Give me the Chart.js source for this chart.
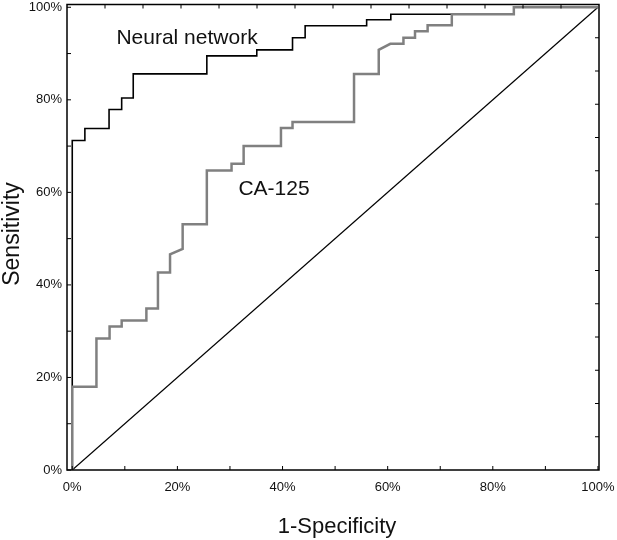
<!DOCTYPE html>
<html><head><meta charset="utf-8">
<script src="https://cdn.jsdelivr.net/npm/chart.js@4.4.0/dist/chart.umd.min.js"></script>
<style>html,body{margin:0;padding:0;background:#fff;} canvas{display:block;}</style>
</head><body>
<canvas id="c" width="617" height="540"></canvas>
<script>
// ---- data (percent) ----
const nnFpr  = [0, 0, 2.4, 2.4, 7.0, 7.0, 9.4, 9.4, 11.6, 11.6, 25.6, 25.6, 35.1, 35.1, 41.9, 41.9, 44.3, 44.3, 56.0, 56.0, 60.6, 60.6, 84.0, 84.0, 100];
const nnSens = [0, 71.2, 71.2, 73.8, 73.8, 77.9, 77.9, 80.4, 80.4, 85.6, 85.6, 89.5, 89.5, 90.8, 90.8, 93.4, 93.4, 96.0, 96.0, 97.3, 97.3, 98.5, 98.5, 100, 100];

const caFpr  = [0, 0, 4.6, 4.6, 7.1, 7.1, 9.4, 9.4, 14.1, 14.1, 16.3, 16.3, 18.6, 18.6, 21.0, 21.0, 25.6, 25.6, 30.3, 30.3, 32.6, 32.6, 39.7, 39.7, 41.9, 41.9, 53.6, 53.6, 58.3, 58.3, 60.5, 63.0, 63.0, 65.2, 65.2, 67.6, 67.6, 72.2, 72.2, 84.0, 84.0, 100];
const caSens = [0, 18.0, 18.0, 28.4, 28.4, 31.0, 31.0, 32.3, 32.3, 34.9, 34.9, 42.7, 42.7, 46.6, 47.8, 53.1, 53.1, 64.7, 64.7, 66.2, 66.2, 70.0, 70.0, 73.9, 73.9, 75.2, 75.2, 85.6, 85.6, 90.8, 92.1, 92.1, 93.4, 93.4, 94.8, 94.8, 96.1, 96.1, 98.5, 98.5, 100, 100];

const diagFpr  = [0, 100];
const diagSens = [0, 100];

const seriesNames = ['CA-125', 'Neural network', 'Reference'];
const xTickValues = [0, 20, 40, 60, 80, 100];
const yTickValues = [0, 20, 40, 60, 80, 100];
const minorTickValues = [0, 10, 20, 30, 40, 50, 60, 70, 80, 90, 100];
const xTitle = '1-Specificity';
const yTitle = 'Sensitivity';

// ---- rendering ----
const FONT = '"Liberation Sans", Arial, Helvetica, sans-serif';
Chart.defaults.font.family = FONT;
Chart.defaults.color = '#111';

const toPts = (xs, ys) => xs.map((v, i) => ({x: v, y: ys[i]}));

const framePlugin = {
  id: 'frame',
  afterDraw(chart) {
    const {ctx, chartArea, scales} = chart;
    const {left, right, top, bottom} = chartArea;
    const x = scales.x, y = scales.y;
    ctx.save();
    ctx.strokeStyle = '#000';
    ctx.lineWidth = 1.5;
    ctx.strokeRect(left, top, right - left, bottom - top);
    ctx.lineWidth = 1;
    const tl = 4;
    const seg = (a, b, c, d) => { ctx.beginPath(); ctx.moveTo(a, b); ctx.lineTo(c, d); ctx.stroke(); };
    minorTickValues.forEach(v => {
      const px = x.getPixelForValue(v);
      seg(px, bottom, px, bottom - tl);
      const py = y.getPixelForValue(v);
      seg(left, py, left + tl, py);
    });
    for (let k = 1; k < 14; k++) {
      const px = left + k * (right - left) / 14;
      seg(px, top, px, top + tl);
      const py = bottom - k * (bottom - top) / 14;
      seg(right, py, right - tl, py);
    }
    // annotations
    ctx.fillStyle = '#111';
    ctx.textBaseline = 'alphabetic';
    ctx.textAlign = 'left';
    ctx.font = '21px ' + FONT;
    ctx.fillText(seriesNames[1], x.getPixelForValue(8.4), y.getPixelForValue(92.0));
    ctx.fillText(seriesNames[0], x.getPixelForValue(31.6), y.getPixelForValue(59.4));
    // axis titles
    ctx.textAlign = 'center';
    ctx.font = '22px ' + FONT;
    ctx.fillText(xTitle, 337, 533);
    ctx.save();
    ctx.translate(18.5, 234);
    ctx.rotate(-Math.PI / 2);
    ctx.font = '23px ' + FONT;
    ctx.fillText(yTitle, 0, 0);
    ctx.restore();
    ctx.restore();
  }
};

new Chart(document.getElementById('c'), {
  type: 'scatter',
  data: {
    datasets: [
      {label: seriesNames[0], data: toPts(caFpr, caSens), showLine: true, borderColor: '#808080', borderWidth: 2.5, pointRadius: 0, tension: 0, fill: false},
      {label: seriesNames[1], data: toPts(nnFpr, nnSens), showLine: true, borderColor: '#000', borderWidth: 1.6, pointRadius: 0, tension: 0, fill: false},
      {label: seriesNames[2], data: toPts(diagFpr, diagSens), showLine: true, borderColor: '#000', borderWidth: 1.2, pointRadius: 0, tension: 0, fill: false}
    ]
  },
  options: {
    responsive: false,
    animation: false,
    devicePixelRatio: 1,
    layout: {padding: {top: 4.5, right: 18, left: 0, bottom: 0}},
    plugins: {legend: {display: false}, tooltip: {enabled: false}},
    scales: {
      x: {
        type: 'linear', min: -1, max: 100.2,
        grid: {display: false, drawTicks: false},
        border: {display: false},
        afterBuildTicks: s => { s.ticks = xTickValues.map(v => ({value: v})); },
        afterFit: s => { s.height = 70; s.paddingLeft = 0; s.paddingRight = 0; },
        ticks: {callback: v => v + '%', font: {size: 13}, padding: 10, maxRotation: 0, autoSkip: false, color: '#111'}
      },
      y: {
        type: 'linear', min: 0, max: 100.6,
        grid: {display: false, drawTicks: false},
        border: {display: false},
        afterBuildTicks: s => { s.ticks = yTickValues.map(v => ({value: v})); },
        afterFit: s => { s.width = 67; s.paddingTop = 0; s.paddingBottom = 0; },
        ticks: {callback: v => v + '%', font: {size: 13}, padding: 5, autoSkip: false, color: '#111'}
      }
    }
  },
  plugins: [framePlugin]
});
</script>
</body></html>
